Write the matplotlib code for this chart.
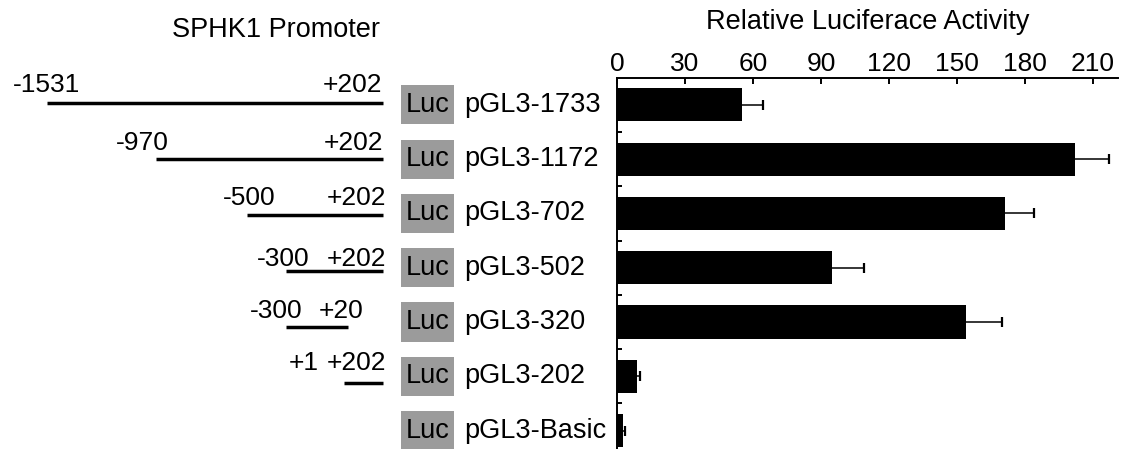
import numpy as np
import matplotlib
matplotlib.use("Agg")
import matplotlib.pyplot as plt
from matplotlib.patches import Rectangle
from matplotlib import transforms

plt.rcParams['font.family'] = ['Liberation Sans', 'DejaVu Sans']

# data
constructs = ["pGL3-1733", "pGL3-1172", "pGL3-702", "pGL3-502", "pGL3-320", "pGL3-202", "pGL3-Basic"]
activity = [55, 202, 171, 95, 154, 9, 2.5]
errors = [9.5, 15, 13, 14, 16, 1.0, 1.2]
x_ticks = [0, 30, 60, 90, 120, 150, 180, 210]

# promoter fragments (start, end) for each construct except Basic
frag_start = [-1531, -970, -500, -300, -300, 1]
frag_end = [202, 202, 202, 202, 20, 202]
start_labels = ["-1531", "-970", "-500", "-300", "-300", "+1"]
end_labels = ["+202", "+202", "+202", "+202", "+20", "+202"]

# label nudges (points)
start_dx = [0, -10, 1.5, -2, -7, -29.5]
end_dx = [-0.7, 0, 2, 2, 11.5, 2]
label_dy = [8.4, 6.7, 7.2, 3.6, 6.5, 9.6]

W, H = 1122, 449
fig = plt.figure(figsize=(W / 100, H / 100), dpi=100)

top = 1 - 77.7 / H
ax = fig.add_axes([617 / W, 0, 501 / W, top])
n = len(constructs)
y = np.arange(n)
bars = ax.barh(y, activity, height=0.61, color="black",
               xerr=[np.zeros(n), errors],
               error_kw=dict(ecolor="black", elinewidth=1.1, capsize=3.5, capthick=1.6))
# only the right-hand cap is shown
caps = bars.errorbar.lines[1]
if len(caps) > 1:
    caps[0].set_visible(False)
ax.set_xlim(0, 221)
ax.set_ylim(6.338, -0.5)
ax.xaxis.tick_top()
ax.set_xticks(x_ticks)
ax.tick_params(axis="x", direction="in", length=4, width=1.4, labelsize=19, pad=1.5)
ax.set_yticks(np.arange(0.5, 6, 1))
ax.set_yticklabels([])
ax.tick_params(axis="y", direction="in", length=3.6, width=1.4)
for s in ["right", "bottom"]:
    ax.spines[s].set_visible(False)
for s in ["left", "top"]:
    ax.spines[s].set_linewidth(1.4)
ax.xaxis.set_label_position("top")
ax.set_xlabel("Relative Luciferace Activity", fontsize=19.5, labelpad=16.5)

# Luc boxes and construct names
trans = transforms.blended_transform_factory(fig.transFigure, ax.transData)
for i, name in enumerate(constructs):
    ax.add_patch(Rectangle((401 / W, i - 0.36), 53 / W, 0.72, transform=trans,
                           facecolor="#9b9b9b", edgecolor="none", clip_on=False))
    ax.text(427.5 / W, i, "Luc", transform=trans, ha="center", va="center",
            fontsize=19.5, clip_on=False)
    ax.text(464 / W, i, name, transform=trans, ha="left", va="center",
            fontsize=19.5, clip_on=False)

# promoter diagram
lax = fig.add_axes([0, 0, 400 / W, top])
lax.axis("off")
lax.set_xlim(-1771.9, 287.8)
lax.set_ylim(6.173, -0.457)
for i in range(len(frag_start)):
    lax.plot([frag_start[i], frag_end[i]], [i, i], color="black", lw=2.5,
             solid_capstyle="butt")
    lax.annotate(start_labels[i], xy=(frag_start[i], i), xytext=(start_dx[i], label_dy[i]),
                 textcoords="offset points", ha="center", va="baseline", fontsize=19)
    lax.annotate(end_labels[i], xy=(frag_end[i], i), xytext=(end_dx[i], label_dy[i]),
                 textcoords="offset points", ha="right", va="baseline", fontsize=19)

fig.text(276.3 / W, 1 - 37 / H, "SPHK1 Promoter", ha="center", va="baseline", fontsize=19.5)

fig.savefig("out.png", dpi=100)
